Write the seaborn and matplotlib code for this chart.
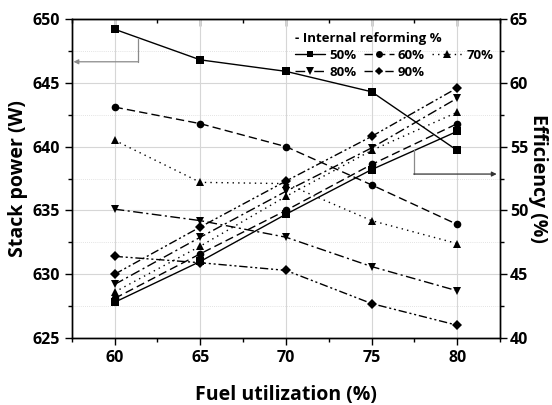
import numpy as np
import pandas as pd
import matplotlib
matplotlib.use("Agg")
import matplotlib.pyplot as plt
from matplotlib.ticker import MultipleLocator
from matplotlib.lines import Line2D
import seaborn as sns

fuel_util = [60, 65, 70, 75, 80]
reform_labels = ["50%", "60%", "70%", "80%", "90%"]

power_50 = [649.2, 646.8, 645.9, 644.3, 639.7]
power_60 = [643.1, 641.8, 640.0, 637.0, 633.9]
power_70 = [640.5, 637.2, 637.1, 634.2, 632.4]
power_80 = [635.1, 634.2, 632.9, 630.6, 628.7]
power_90 = [631.4, 630.9, 630.3, 627.7, 626.0]

eff_50 = [42.8, 46.0, 49.7, 53.2, 56.2]
eff_60 = [43.1, 46.6, 50.0, 53.6, 56.8]
eff_70 = [43.6, 47.2, 51.1, 54.7, 57.7]
eff_80 = [44.2, 47.9, 51.5, 54.9, 58.8]
eff_90 = [45.0, 48.7, 52.3, 55.8, 59.6]

powers = [power_50, power_60, power_70, power_80, power_90]
effs = [eff_50, eff_60, eff_70, eff_80, eff_90]

rows_p, rows_e = [], []
for lab, p, e in zip(reform_labels, powers, effs):
    for x, pv, ev in zip(fuel_util, p, e):
        rows_p.append({"fu": x, "val": pv, "reform": lab})
        rows_e.append({"fu": x, "val": ev, "reform": lab})
df_p = pd.DataFrame(rows_p)
df_e = pd.DataFrame(rows_e)

sns.set_style("white")
plt.rcParams["font.family"] = ["Open Sans", "DejaVu Sans"]
plt.rcParams["font.weight"] = "bold"
plt.rcParams["axes.labelweight"] = "bold"
plt.rcParams["text.color"] = "black"
plt.rcParams["axes.labelcolor"] = "black"
plt.rcParams["xtick.color"] = "black"
plt.rcParams["ytick.color"] = "black"

markers = {"50%": "s", "60%": "o", "70%": "^", "80%": "v", "90%": "D"}
dashes = {"50%": "", "60%": (6, 3), "70%": (1, 3), "80%": (7, 2.5, 1.5, 2.5),
          "90%": (6, 2, 1.5, 2, 1.5, 2)}
msize = {"50%": 5.5, "60%": 5.5, "70%": 6, "80%": 6, "90%": 5}

fig = plt.figure(figsize=(5.52, 4.05), dpi=100)
ax = fig.add_axes([0.130, 0.1654, 0.776, 0.7876])
ax2 = ax.twinx()

for lab in reform_labels:
    sns.lineplot(data=df_p[df_p.reform == lab], x="fu", y="val", ax=ax,
                 color="black", marker=markers[lab], markersize=msize[lab],
                 markeredgewidth=0, linewidth=1.0, dashes=False, legend=False)
    if dashes[lab]:
        ax.lines[-1].set_dashes(dashes[lab])
    sns.lineplot(data=df_e[df_e.reform == lab], x="fu", y="val", ax=ax2,
                 color="black", marker=markers[lab], markersize=msize[lab],
                 markeredgewidth=0, linewidth=1.0, dashes=False, legend=False)
    if dashes[lab]:
        ax2.lines[-1].set_dashes(dashes[lab])

ax.set_xlim(57.5, 82.5)
ax.set_ylim(625, 650)
ax2.set_ylim(40, 65)

ax.xaxis.set_major_locator(MultipleLocator(5))
ax.xaxis.set_minor_locator(MultipleLocator(2.5))
ax.yaxis.set_major_locator(MultipleLocator(5))
ax.yaxis.set_minor_locator(MultipleLocator(2.5))
ax2.yaxis.set_major_locator(MultipleLocator(5))
ax2.yaxis.set_minor_locator(MultipleLocator(2.5))

ax.grid(True, which="major", color="#d6d6d6", linewidth=0.8)
ax.grid(True, which="minor", axis="y", color="#dadada", linewidth=0.6, linestyle=(0, (1, 1.5)))
ax.set_axisbelow(True)

for a in (ax, ax2):
    for s in a.spines.values():
        s.set_color("black")
        s.set_linewidth(1.0)
ax.tick_params(axis="x", which="both", bottom=True, top=False, direction="out", color="black")
ax.tick_params(axis="x", which="major", length=5, width=1)
ax.tick_params(axis="x", which="minor", length=3, width=1)
ax.tick_params(axis="y", which="both", left=True, direction="out", color="black")
ax.tick_params(axis="y", which="major", length=5, width=1)
ax.tick_params(axis="y", which="minor", length=3, width=1)
ax2.tick_params(axis="y", which="both", right=True, direction="out", color="black")
ax2.tick_params(axis="y", which="major", length=5, width=1)
ax2.tick_params(axis="y", which="minor", length=3, width=1)
secx = ax.secondary_xaxis("top")
secx.xaxis.set_major_locator(MultipleLocator(5))
secx.xaxis.set_minor_locator(MultipleLocator(2.5))
secx.tick_params(axis="x", which="both", direction="in", labeltop=False, color="black")
secx.tick_params(axis="x", which="major", length=5, width=1)
secx.tick_params(axis="x", which="minor", length=3, width=1)

ax.tick_params(axis="both", labelsize=11.5, labelcolor="black")
ax2.tick_params(axis="y", labelsize=11.5, pad=2, labelcolor="black")

ax.set_xlabel("Fuel utilization (%)", fontsize=14, fontweight="bold", labelpad=14)
ax.set_ylabel("Stack power (W)", fontsize=14, fontweight="bold", labelpad=3)
ax2.set_ylabel("Efficiency (%)", fontsize=14, fontweight="bold", rotation=270, labelpad=14)

arrow_col = "#8a8a8a"
ax.plot([61.35, 61.35], [648.55, 646.65], color=arrow_col, linewidth=0.9)
ax.annotate("", xy=(57.6, 646.65), xytext=(61.35, 646.65),
            arrowprops=dict(arrowstyle="-|>", color=arrow_col, lw=0.9,
                            shrinkA=0, shrinkB=0, mutation_scale=7))
ax2.plot([77.46, 77.46], [54.7, 52.85], color=arrow_col, linewidth=0.9)
ax2.annotate("", xy=(82.3, 52.85), xytext=(77.46, 52.85),
             arrowprops=dict(arrowstyle="-|>", color="#333333", lw=0.9,
                             shrinkA=0, shrinkB=0, mutation_scale=7))

order = ["50%", "80%", "60%", "90%", "70%"]
handles = []
for l in order:
    h = Line2D([0], [0], color="black", marker=markers[l], markersize=msize[l] - 0.5,
               markeredgewidth=0, linewidth=1.0, linestyle="-")
    if dashes[l]:
        h.set_dashes(dashes[l])
    handles.append(h)
leg = ax2.legend(handles, order, title="- Internal reforming %", ncol=3,
                 loc="upper right", bbox_to_anchor=(1.0, 0.98), frameon=False,
                 fontsize=9.5, title_fontsize=9.5, handlelength=2.3,
                 handletextpad=0.3, columnspacing=0.55, labelspacing=0.3,
                 borderaxespad=0.1)
leg.get_title().set_fontweight("bold")
leg._legend_box.align = "left"

fig.savefig("out.png", dpi=100)
